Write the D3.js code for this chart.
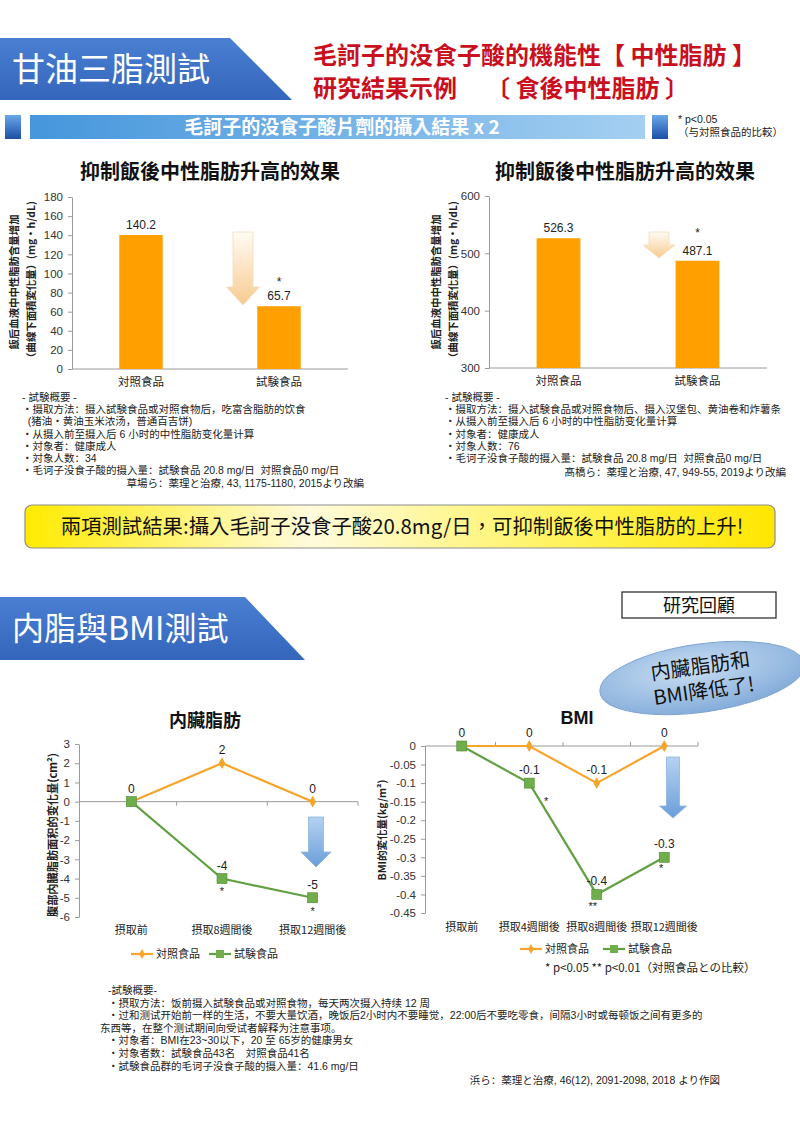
<!DOCTYPE html>
<html>
<head>
<meta charset="utf-8">
<script src="https://cdn.jsdelivr.net/npm/d3@7.9.0/dist/d3.min.js"></script>
<style>
  body { margin: 0; background: #fff; }
  svg { display: block; }
  text { font-family: "Noto Sans CJK TC", "Noto Sans CJK JP", sans-serif; }
  .num { font-family: "Liberation Sans", Arial, sans-serif; }
  .note { font-family: "Liberation Sans", "Noto Sans CJK SC", "Noto Sans CJK JP", sans-serif; font-size: 10.5px; fill: #222; }
</style>
</head>
<body>
<svg id="chart" width="800" height="1127"></svg>
<script>
// ---- data ----
const tgCategories = ['対照食品', '試験食品'];
const tgStudy1 = [140.2, 65.7];
const tgStudy2 = [526.3, 487.1];
const tgSig = ['', '*'];
const tgTicks1 = [0, 20, 40, 60, 80, 100, 120, 140, 160, 180];
const tgTicks2 = [300, 400, 500, 600];

const vfCategories = ['摂取前', '摂取8週間後', '摂取12週間後'];
const vfControl = [0, 2, 0];
const vfTest = [0, -4, -5];
const vfSig = ['', '*', '*'];
const vfTicks = [3, 2, 1, 0, -1, -2, -3, -4, -5, -6];

const bmiCategories = ['摂取前', '摂取4週間後', '摂取8週間後', '摂取12週間後'];
const bmiControl = [0, 0, -0.1, 0];
const bmiTest = [0, -0.1, -0.4, -0.3];
const bmiSig = ['', '*', '**', '*'];
const bmiTicks = [0, -0.05, -0.1, -0.15, -0.2, -0.25, -0.3, -0.35, -0.4, -0.45];
const bmiTickLabels = ['0', '-0.05', '-0.1', '-0.15', '-0.2', '-0.25', '-0.3', '-0.35', '-0.4', '-0.45'];

const notes1 = [
  '- 試験概要 -',
  '・摄取方法：摄入試験食品或对照食物后，吃富含脂肪的饮食',
  '  (猪油・黄油玉米浓汤，普通百吉饼)',
  '・从摄入前至摄入后 6 小时的中性脂肪变化量计算',
  '・対象者：健康成人',
  '・対象人数：34',
  '・毛诃子没食子酸的摄入量：試験食品 20.8 mg/日  対照食品0 mg/日'
];
const cite1 = '草場ら：薬理と治療, 43, 1175-1180, 2015より改編';
const notes2 = [
  '- 試験概要 -',
  '・摄取方法：摄入試験食品或对照食物后、摄入汉堡包、黄油卷和炸薯条',
  '・从摄入前至摄入后 6 小时的中性脂肪变化量计算',
  '・対象者：健康成人',
  '・対象人数：76',
  '・毛诃子没食子酸的摄入量：試験食品 20.8 mg/日  対照食品0 mg/日'
];
const cite2 = '髙橋ら：薬理と治療, 47, 949-55, 2019より改編';
const notes3 = [
  '-試験概要-',
  '・摂取方法：饭前摄入試験食品或对照食物，每天两次摄入持续 12 周',
  '・过和测试开始前一样的生活，不要大量饮酒，晚饭后2小时内不要睡觉，22:00后不要吃零食，间隔3小时或每顿饭之间有更多的',
  '东西等，在整个测试期间向受试者解释为注意事项。',
  '・対象者：BMI在23~30以下，20 至 65岁的健康男女',
  '・対象者数：試験食品43名　対照食品41名',
  '・試験食品群的毛诃子没食子酸的摄入量：41.6 mg/日'
];
const cite3 = '浜ら：薬理と治療, 46(12), 2091-2098, 2018 より作図';

const orange = '#ff9f00';
const lineOrange = '#f7a42a';
const green = '#62a043';

// ---- setup ----
const svg = d3.select('#chart');
const defs = svg.append('defs');

function linGrad(id, x2, y2, stops) {
  const g = defs.append('linearGradient').attr('id', id)
    .attr('x1', 0).attr('y1', 0).attr('x2', x2).attr('y2', y2);
  stops.forEach(([o, c]) => g.append('stop').attr('offset', o).attr('stop-color', c));
}
linGrad('hdrBlue', 0, 1, [[0, '#4a7fd2'], [1, '#3466bc']]);
linGrad('barBlue', 1, 0, [[0, '#4596dc'], [1, '#a4cff1']]);
linGrad('sqBlue', 0, 1, [[0, '#6aa8ea'], [1, '#1d4ea4']]);
linGrad('yellow', 1, 0, [[0, '#ffeb00'], [0.38, '#fffbdc'], [0.75, '#fff250'], [1, '#ffe600']]);
linGrad('orangeArrow', 0, 1, [[0, '#fffbf4'], [1, '#f7cb90']]);
linGrad('blueArrow', 0, 1, [[0, '#b6d2f1'], [1, '#6b9edb']]);
const rg = defs.append('radialGradient').attr('id', 'ellipseFill').attr('cx', 0.45).attr('cy', 0.35).attr('r', 0.7);
rg.append('stop').attr('offset', 0).attr('stop-color', '#c9def3');
rg.append('stop').attr('offset', 1).attr('stop-color', '#7fa9d8');

// ---- section headers ----
function header(yTop, yBot, xTop, xBot, label, size) {
  svg.append('path')
    .attr('d', `M0,${yTop}H${xTop}L${xBot},${yBot}H0Z`)
    .attr('fill', 'url(#hdrBlue)');
  svg.append('text').attr('x', 12).attr('y', (yTop + yBot) / 2 + size * 0.36)
    .attr('font-size', size).attr('fill', '#fff').text(label);
}
header(38, 100, 230, 292, '甘油三脂測試', 33);
header(597, 660, 245, 305, '内脂與BMI測試', 32);

const red = '#c8101e';
svg.append('text').attr('x', 313).attr('y', 64).attr('font-size', 24).attr('font-weight', 'bold').attr('fill', red)
  .attr('xml:space', 'preserve').style('white-space', 'pre')
  .text('毛訶子的没食子酸的機能性【 中性脂肪 】');
svg.append('text').attr('x', 313).attr('y', 97).attr('font-size', 24).attr('font-weight', 'bold').attr('fill', red)
  .text('研究結果示例');
svg.append('text').attr('x', 486).attr('y', 97).attr('font-size', 24).attr('font-weight', 'bold').attr('fill', red)
  .attr('xml:space', 'preserve').style('white-space', 'pre')
  .text('〔 食後中性脂肪 〕');

// subtitle band
svg.append('rect').attr('x', 5).attr('y', 115).attr('width', 16).attr('height', 24).attr('fill', 'url(#sqBlue)');
svg.append('rect').attr('x', 30).attr('y', 115).attr('width', 615).attr('height', 24).attr('fill', 'url(#barBlue)');
svg.append('rect').attr('x', 652).attr('y', 115).attr('width', 16).attr('height', 24).attr('fill', 'url(#sqBlue)');
svg.append('text').attr('x', 342).attr('y', 134).attr('text-anchor', 'middle').attr('font-weight', 'bold')
  .attr('font-size', 19).attr('fill', '#fff').text('毛訶子的没食子酸片劑的攝入結果 x 2');
svg.append('text').attr('x', 678).attr('y', 123).attr('font-size', 10.5).attr('fill', '#222')
  .attr('class', 'num').text('* p<0.05');
svg.append('text').attr('x', 678).attr('y', 136).attr('font-size', 10).attr('fill', '#222')
  .attr('class', 'note').text('（与対照食品的比較）');

// ---- helpers ----
function styleAxis(g) {
  g.select('.domain').attr('stroke', '#9a9a9a');
  g.selectAll('.tick line').attr('stroke', '#9a9a9a');
  g.selectAll('.tick text').attr('class', 'num').attr('font-size', 11.5).attr('fill', '#333');
}

function arrow(cx, top, headY, tip, shaftW, headW, fill, stroke) {
  svg.append('path')
    .attr('d', `M${cx - shaftW / 2},${top}H${cx + shaftW / 2}V${headY}H${cx + headW / 2}L${cx},${tip}L${cx - headW / 2},${headY}H${cx - shaftW / 2}Z`)
    .attr('fill', fill).attr('stroke', stroke).attr('stroke-width', 0.8);
}

function vLabel(x, y, lines, size, gap) {
  const t = svg.append('text').attr('transform', `translate(${x},${y}) rotate(-90)`)
    .attr('text-anchor', 'middle').attr('font-size', size).attr('font-weight', 'bold').attr('fill', '#222');
  lines.forEach((l, i) => t.append('tspan').attr('x', 0).attr('dy', i === 0 ? 0 : gap).text(l));
  return t;
}

// ---- bar charts ----
function barChart(o) {
  const x = d3.scalePoint().domain(o.cats).range([o.x0, o.x1]).padding(0.5);
  const y = d3.scaleLinear().domain(o.domain).range([o.yBot, o.yTop]);
  const bw = x.step() * 0.315;
  const g = svg.append('g');

  g.append('text').attr('x', o.titleX).attr('y', 179).attr('text-anchor', 'middle')
    .attr('font-size', 20).attr('font-weight', 'bold').attr('fill', '#111').text(o.title);

  g.append('g').attr('transform', `translate(${o.x0},0)`)
    .call(d3.axisLeft(y).tickValues(o.ticks).tickSize(4).tickSizeOuter(0).tickPadding(5))
    .call(styleAxis);
  g.append('line').attr('x1', o.x0).attr('x2', o.x1).attr('y1', o.yBot).attr('y2', o.yBot)
    .attr('stroke', '#9a9a9a');

  g.selectAll('rect.bar').data(o.values).join('rect').attr('class', 'bar')
    .attr('x', (d, i) => x(o.cats[i]) - bw / 2).attr('y', d => y(d))
    .attr('width', bw).attr('height', d => o.yBot - y(d)).attr('fill', orange);

  g.selectAll('text.val').data(o.values).join('text').attr('class', 'val num')
    .attr('x', (d, i) => x(o.cats[i])).attr('y', d => y(d) - 6)
    .attr('text-anchor', 'middle').attr('font-size', 12).attr('fill', '#222').text(d => d);

  g.selectAll('text.sig').data(o.sig).join('text').attr('class', 'sig num')
    .attr('x', (d, i) => x(o.cats[i])).attr('y', (d, i) => y(o.values[i]) - o.sigGap)
    .attr('text-anchor', 'middle').attr('font-size', 12).attr('fill', '#222').text(d => d);

  g.selectAll('text.cat').data(o.cats).join('text').attr('class', 'cat')
    .attr('x', d => x(d)).attr('y', o.yBot + 17).attr('text-anchor', 'middle')
    .attr('font-size', 11.5).attr('fill', '#222').text(d => d);
  return { x, y };
}

barChart({ cats: tgCategories, values: tgStudy1, ticks: tgTicks1, domain: [0, 180],
  x0: 72, x1: 348, yTop: 197, yBot: 369, title: '抑制飯後中性脂肪升高的效果', titleX: 210, sig: tgSig, sigGap: 20 });
barChart({ cats: tgCategories, values: tgStudy2, ticks: tgTicks2, domain: [300, 600],
  x0: 489, x1: 767, yTop: 196, yBot: 368, title: '抑制飯後中性脂肪升高的效果', titleX: 625, sig: tgSig, sigGap: 24 });

arrow(243, 232, 287, 305, 20, 33, 'url(#orangeArrow)', '#f3dcbc');
arrow(659, 232, 245, 258, 20, 32, 'url(#orangeArrow)', '#f3dcbc');

vLabel(18, 282, ['飯后血液中中性脂肪含量增加', '（曲線下面積変化量）(mg·h/dL)'], 10.4, 17);
vLabel(440, 282, ['飯后血液中中性脂肪含量增加', '（曲線下面積変化量）(mg·h/dL)'], 10.4, 17);

// notes under bar charts
function notes(x, y0, lines, step) {
  lines.forEach((l, i) => svg.append('text').attr('class', 'note').attr('x', x).attr('y', y0 + i * step)
    .attr('xml:space', 'preserve').style('white-space', 'pre').text(l));
}
notes(22, 401, notes1, 12.2);
svg.append('text').attr('class', 'note').attr('x', 364).attr('y', 487).attr('text-anchor', 'end').text(cite1);
notes(445, 401, notes2, 12.2);
svg.append('text').attr('class', 'note').attr('x', 786).attr('y', 476).attr('text-anchor', 'end').text(cite2);

// ---- yellow conclusion box ----
svg.append('rect').attr('x', 25).attr('y', 505).attr('width', 750).attr('height', 43).attr('rx', 7)
  .attr('fill', 'url(#yellow)').attr('stroke', '#8d8d8d').attr('stroke-width', 1.2);
svg.append('text').attr('x', 402).attr('y', 534).attr('text-anchor', 'middle').attr('font-size', 20.4)
  .attr('fill', '#111').text('兩項測試結果:攝入毛訶子没食子酸20.8mg/日，可抑制飯後中性脂肪的上升!');

// ---- second section decorations ----
svg.append('rect').attr('x', 622).attr('y', 592).attr('width', 154).attr('height', 26)
  .attr('fill', '#fff').attr('stroke', '#222').attr('stroke-width', 1.2);
svg.append('text').attr('x', 699).attr('y', 612).attr('text-anchor', 'middle').attr('font-size', 18)
  .attr('fill', '#111').text('研究回顧');

const eg = svg.append('g').attr('transform', 'translate(702,678) rotate(-8)');
eg.append('ellipse').attr('rx', 103).attr('ry', 34).attr('fill', 'url(#ellipseFill)')
  .attr('stroke', '#7fa3cf').attr('stroke-width', 1);
eg.append('text').attr('y', -5).attr('text-anchor', 'middle').attr('font-size', 20).attr('fill', '#111').text('内臟脂肪和');
eg.append('text').attr('y', 20).attr('text-anchor', 'middle').attr('font-size', 20).attr('fill', '#111').text('BMI降低了!');

// ---- line charts ----
function lineChart(o) {
  const x = d3.scalePoint().domain(o.cats).range([o.x0, o.x1]).padding(0.5);
  const y = d3.scaleLinear().domain(o.domain).range([o.yBot, o.yTop]);
  const g = svg.append('g');

  g.append('g').attr('transform', `translate(${o.axisX},0)`)
    .call(d3.axisLeft(y).tickValues(o.ticks).tickFormat((d, i) => o.tickLabels ? o.tickLabels[i] : d)
      .tickSize(4).tickSizeOuter(0).tickPadding(5))
    .call(styleAxis);

  // zero line with category separators
  const y0 = y(0);
  g.append('line').attr('x1', o.axisX).attr('x2', o.x1).attr('y1', y0).attr('y2', y0).attr('stroke', '#9a9a9a');
  g.selectAll('line.sep').data(o.cats).join('line').attr('class', 'sep')
    .attr('x1', d => x(d) + x.step() / 2).attr('x2', d => x(d) + x.step() / 2)
    .attr('y1', y0).attr('y2', y0 + o.sepDir * 4).attr('stroke', '#9a9a9a');

  const line = d3.line().x((d, i) => x(o.cats[i])).y(d => y(d));
  g.append('path').datum(o.control).attr('d', line).attr('fill', 'none').attr('stroke', lineOrange).attr('stroke-width', 2.2);
  g.append('path').datum(o.test).attr('d', line).attr('fill', 'none').attr('stroke', green).attr('stroke-width', 2.2);

  g.selectAll('path.dia').data(o.control).join('path').attr('class', 'dia')
    .attr('d', d3.symbol(d3.symbolDiamond, 40))
    .attr('transform', (d, i) => `translate(${x(o.cats[i])},${y(d)})`).attr('fill', lineOrange);
  g.selectAll('rect.sq').data(o.test).join('rect').attr('class', 'sq')
    .attr('x', (d, i) => x(o.cats[i]) - 5).attr('y', d => y(d) - 5)
    .attr('width', 10).attr('height', 10).attr('fill', '#6fae4a').attr('stroke', '#4f8a32').attr('stroke-width', 0.6);

  // value labels (test value at the first point coincides with control)
  g.selectAll('text.cv').data(o.control).join('text').attr('class', 'cv num')
    .attr('x', (d, i) => x(o.cats[i])).attr('y', d => y(d) - 9)
    .attr('text-anchor', 'middle').attr('font-size', 12).attr('fill', '#222').text(d => d);
  g.selectAll('text.tv').data(o.test.slice(1)).join('text').attr('class', 'tv num')
    .attr('x', (d, i) => x(o.cats[i + 1])).attr('y', d => y(d) - 9)
    .attr('text-anchor', 'middle').attr('font-size', 12).attr('fill', '#222').text(d => d);
  g.selectAll('text.sg').data(o.sig).join('text').attr('class', 'sg num')
    .attr('x', (d, i) => x(o.cats[i]) + (o.sigShift[i] || 0)).attr('y', (d, i) => y(o.test[i]) + o.sigDy[i])
    .attr('text-anchor', 'middle').attr('font-size', 11).attr('fill', '#222').text(d => d);

  g.selectAll('text.cat').data(o.cats).join('text').attr('class', 'cat')
    .attr('x', d => x(d)).attr('y', o.catY).attr('text-anchor', 'middle')
    .attr('font-size', 11).attr('fill', '#222').text(d => d);

  g.append('text').attr('x', o.titleX).attr('y', o.titleY).attr('text-anchor', 'middle')
    .attr('font-size', 18).attr('font-weight', 'bold').attr('fill', '#111')
    .attr('class', o.titleNum ? 'num' : null).text(o.title);

  // legend
  const lg = g.append('g').attr('transform', `translate(${o.legX},${o.legY})`);
  lg.append('line').attr('x1', 0).attr('x2', 22).attr('stroke', lineOrange).attr('stroke-width', 2.2);
  lg.append('path').attr('d', d3.symbol(d3.symbolDiamond, 28)).attr('transform', 'translate(11,0)').attr('fill', lineOrange);
  lg.append('text').attr('x', 25).attr('y', 4).attr('font-size', 11).attr('fill', '#222').text('対照食品');
  lg.append('line').attr('x1', o.legGap).attr('x2', o.legGap + 22).attr('stroke', green).attr('stroke-width', 2.2);
  lg.append('rect').attr('x', o.legGap + 7).attr('y', -4).attr('width', 8).attr('height', 8).attr('fill', '#6fae4a');
  lg.append('text').attr('x', o.legGap + 25).attr('y', 4).attr('font-size', 11).attr('fill', '#222').text('試験食品');
}

lineChart({ cats: vfCategories, control: vfControl, test: vfTest, sig: vfSig,
  sigShift: [0, 0, 0], sigDy: [0, 16, 17],
  domain: [-6, 3], ticks: vfTicks, x0: 86, x1: 358, axisX: 79, yTop: 744, yBot: 917, sepDir: 1,
  catY: 934, title: '内臟脂肪', titleX: 205, titleY: 727, legX: 131, legY: 954, legGap: 78 });

lineChart({ cats: bmiCategories, control: bmiControl, test: bmiTest, sig: bmiSig, tickLabels: bmiTickLabels,
  sigShift: [0, 17, -4, -3], sigDy: [0, 22, 16, 15],
  domain: [-0.45, 0], ticks: bmiTicks, x0: 428, x1: 698, axisX: 425, yTop: 746, yBot: 913, sepDir: -1,
  catY: 931, title: 'BMI', titleNum: true, titleX: 577, titleY: 724, legX: 520, legY: 949, legGap: 83 });

arrow(316, 817, 852, 867, 15, 30, 'url(#blueArrow)', '#8fb3e0');
arrow(673, 757, 806, 818, 13, 27, 'url(#blueArrow)', '#8fb3e0');

vLabel(57, 835, ['腹部内臓脂肪面积的变化量(cm²)'], 11.2, 0);
vLabel(386, 830, ['BMI的変化量(kg/m²)'], 10.5, 0);

svg.append('text').attr('x', 545).attr('y', 972).attr('font-size', 11.5).attr('fill', '#222')
  .text('* p<0.05 ** p<0.01（対照食品との比較）');

// bottom notes
notes3.forEach((l, i) => svg.append('text').attr('class', 'note')
  .attr('x', i === 3 ? 100 : 108).attr('y', 994 + i * 12.6).text(l));
svg.append('text').attr('class', 'note').attr('x', 720).attr('y', 1084).attr('text-anchor', 'end').text(cite3);
</script>
</body>
</html>
